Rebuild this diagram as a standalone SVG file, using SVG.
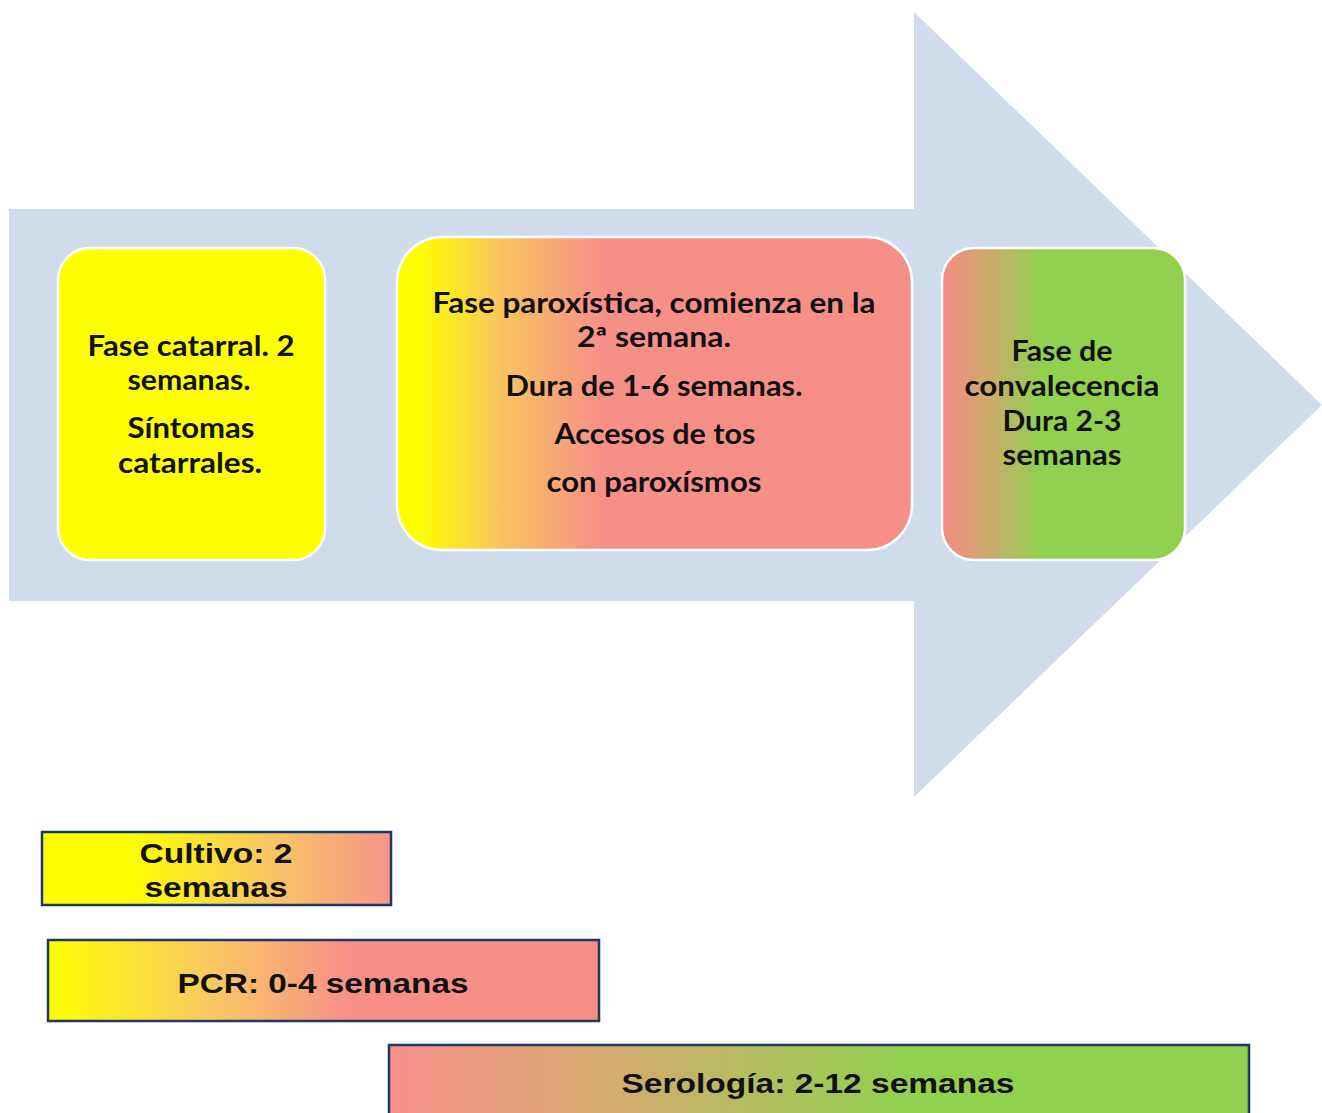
<svg xmlns="http://www.w3.org/2000/svg" width="1322" height="1113" viewBox="0 0 1322 1113">
<defs>
<linearGradient id="gYP" x1="0" y1="0" x2="1" y2="0">
<stop offset="0.04" stop-color="#FFFF00"/><stop offset="0.2" stop-color="#F9C55E"/><stop offset="0.4" stop-color="#F78F89"/><stop offset="1" stop-color="#F78F89"/>
</linearGradient>
<linearGradient id="gPG" x1="0" y1="0" x2="1" y2="0">
<stop offset="0" stop-color="#F48B83"/><stop offset="0.2" stop-color="#CBAB6C"/><stop offset="0.4" stop-color="#92D050"/><stop offset="1" stop-color="#92D050"/>
</linearGradient>
<linearGradient id="gCult" x1="0" y1="0" x2="1" y2="0">
<stop offset="0.25" stop-color="#FFFF00"/><stop offset="0.65" stop-color="#F9C763"/><stop offset="1" stop-color="#F6948A"/>
</linearGradient>
<linearGradient id="gPCR" x1="0" y1="0" x2="1" y2="0">
<stop offset="0" stop-color="#FFFF00"/><stop offset="0.3" stop-color="#F9C864"/><stop offset="0.55" stop-color="#F78F89"/><stop offset="1" stop-color="#F78F89"/>
</linearGradient>
<linearGradient id="gSer" x1="0" y1="0" x2="1" y2="0">
<stop offset="0" stop-color="#F78F89"/><stop offset="0.25" stop-color="#D6AA70"/><stop offset="0.6" stop-color="#92D050"/><stop offset="1" stop-color="#92D050"/>
</linearGradient>
</defs>
<style>
.phase{font-family:Lato,"Open Sans",sans-serif;font-weight:bold;font-size:28px;fill:#111;text-anchor:middle}
.bar{font-family:"Liberation Sans",Arial,sans-serif;font-weight:bold;font-size:28px;fill:#111;text-anchor:middle}
.box{stroke:#FFFFFF;stroke-width:2.5}
.barbox{stroke:#1F3864;stroke-width:2.5}
</style>
<rect width="1322" height="1113" fill="#FFFFFF"/>
<g id="arrow">
<polygon points="9,209 914,209 914,12 1322,405 914,797 914,601 9,601" fill="#D0DCEC"/>
</g>
<g id="connectors"></g>
<g id="node-catarral">
<rect class="box" x="58" y="248" width="267" height="312" rx="32" fill="#FFFF00"/>
<text class="phase" x="191" y="356" textLength="207" lengthAdjust="spacingAndGlyphs">Fase catarral. 2</text>
<text class="phase" x="189" y="390" textLength="123" lengthAdjust="spacingAndGlyphs">semanas.</text>
<text class="phase" x="191" y="438" textLength="127" lengthAdjust="spacingAndGlyphs">Síntomas</text>
<text class="phase" x="190" y="473" textLength="144" lengthAdjust="spacingAndGlyphs">catarrales.</text>
</g>
<g id="node-paroxistica">
<rect class="box" x="397" y="237" width="515" height="313" rx="45" fill="url(#gYP)"/>
<text class="phase" x="654" y="313" textLength="443" lengthAdjust="spacingAndGlyphs">Fase paroxística, comienza en la</text>
<text class="phase" x="654" y="347" textLength="154" lengthAdjust="spacingAndGlyphs">2ª semana.</text>
<text class="phase" x="654" y="396" textLength="297" lengthAdjust="spacingAndGlyphs">Dura de 1-6 semanas.</text>
<text class="phase" x="655" y="444" textLength="201" lengthAdjust="spacingAndGlyphs">Accesos de tos</text>
<text class="phase" x="654" y="492" textLength="215" lengthAdjust="spacingAndGlyphs">con paroxísmos</text>
</g>
<g id="node-convalecencia">
<rect class="box" x="942" y="248" width="243" height="312" rx="32" fill="url(#gPG)"/>
<text class="phase" x="1062" y="361" textLength="101" lengthAdjust="spacingAndGlyphs">Fase de</text>
<text class="phase" x="1062" y="396" textLength="195" lengthAdjust="spacingAndGlyphs">convalecencia</text>
<text class="phase" x="1062" y="431" textLength="119" lengthAdjust="spacingAndGlyphs">Dura 2-3</text>
<text class="phase" x="1062" y="465" textLength="119" lengthAdjust="spacingAndGlyphs">semanas</text>
</g>
<g id="node-cultivo">
<rect class="barbox" x="42" y="832" width="349" height="73" fill="url(#gCult)"/>
<text class="bar" x="216" y="863" textLength="153" lengthAdjust="spacingAndGlyphs">Cultivo: 2</text>
<text class="bar" x="216" y="897" textLength="143" lengthAdjust="spacingAndGlyphs">semanas</text>
</g>
<g id="node-pcr">
<rect class="barbox" x="48" y="940" width="551" height="81" fill="url(#gPCR)"/>
<text class="bar" x="323" y="993" textLength="291" lengthAdjust="spacingAndGlyphs">PCR: 0-4 semanas</text>
</g>
<g id="node-serologia">
<rect class="barbox" x="389" y="1045" width="860" height="80" fill="url(#gSer)"/>
<text class="bar" x="818" y="1093" textLength="393" lengthAdjust="spacingAndGlyphs">Serología: 2-12 semanas</text>
</g>
</svg>
